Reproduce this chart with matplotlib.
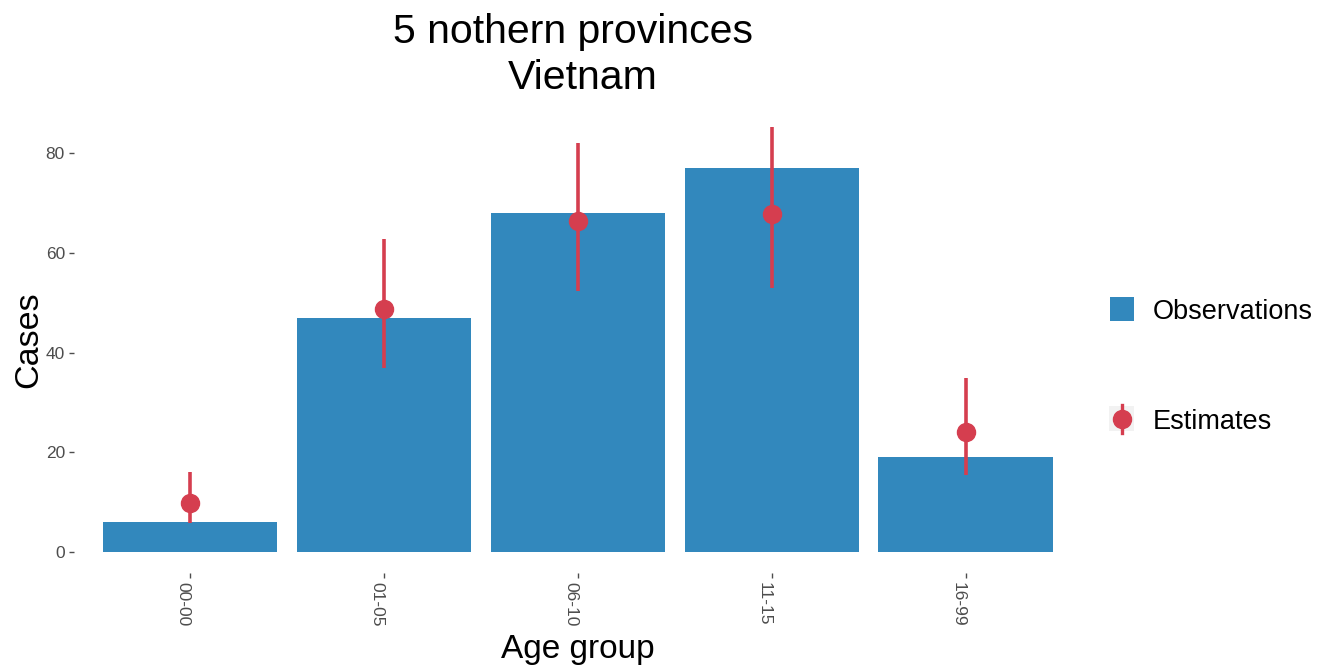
import matplotlib
matplotlib.use("Agg")
import matplotlib.pyplot as plt
from matplotlib.patches import Rectangle
from matplotlib.lines import Line2D

plt.rcParams['font.family'] = ['Liberation Sans', 'DejaVu Sans']

categories = ["00-00", "01-05", "06-10", "11-15", "16-99"]
observations = [6, 47, 68, 77, 19]
estimates = [9.8, 48.7, 66.3, 67.8, 24.0]
est_low = [5.7, 36.8, 52.4, 53.0, 15.5]
est_high = [16.1, 62.7, 82.0, 85.2, 34.9]
legend_labels = ["Observations", "Estimates"]

blue = "#3288BD"
red = "#D53E4F"

W, H = 1328, 667
fig = plt.figure(figsize=(W / 100, H / 100), dpi=100)
ax = fig.add_axes([0.0557, 0.1409, 0.759, 0.700])


def fx(px):
    return px / W


def fy(py):
    return 1 - py / H


x = list(range(1, len(categories) + 1))
ax.bar(x, observations, width=0.9, color=blue, zorder=2)
yerr = [[e - l for e, l in zip(estimates, est_low)],
        [h - e for e, h in zip(estimates, est_high)]]
ax.errorbar(x, estimates, yerr=yerr, fmt='o', color=red, ms=13,
            elinewidth=2.6, capsize=0, zorder=3)

ax.set_xlim(0.4, 5.6)
lo = 0
hi = max(est_high)
pad = (hi - lo) * 0.05
ax.set_ylim(lo - pad, hi + pad)
ax.set_xticks(x)
ax.set_xticklabels(categories, rotation=270, ha='right')
ax.set_yticks([0, 20, 40, 60, 80])
ax.tick_params(axis='both', colors='#4d4d4d', labelsize=12.5, length=3.5,
               width=1.0, pad=3)
for s in ax.spines.values():
    s.set_visible(False)

# axis labels
fig.text(fx(578), fy(658), "Age group", fontsize=24, ha='center', va='baseline')
fig.text(fx(37), fy(340), "Cases", fontsize=24.5, rotation=90,
         ha='center', va='baseline', rotation_mode='anchor')
# title
fig.text(fx(573), fy(43), "5 nothern provinces", fontsize=29.5,
         ha='center', va='baseline')
fig.text(fx(583), fy(89), "Vietnam", fontsize=29.5, ha='center', va='baseline')

# legend (manual, ggplot style)
fig.add_artist(Rectangle((fx(1110), fy(321)), fx(24), 24 / H,
                         facecolor=blue, edgecolor='none',
                         transform=fig.transFigure))
fig.add_artist(Rectangle((fx(1109), fy(431)), fx(25), 25 / H,
                         facecolor='#f2f2f2', edgecolor='none',
                         transform=fig.transFigure))
fig.add_artist(Line2D([fx(1122), fx(1122)], [fy(405), fy(433)], color=red,
                      lw=2.4, transform=fig.transFigure))
fig.add_artist(Line2D([fx(1122)], [fy(419)], color=red, marker='o', ms=13,
                      lw=0, transform=fig.transFigure))
fig.text(fx(1153), fy(309), legend_labels[0], fontsize=19.5, ha='left',
         va='center_baseline')
fig.text(fx(1153), fy(419), legend_labels[1], fontsize=19.5, ha='left',
         va='center_baseline')

fig.savefig("out.png", dpi=100, facecolor='white')
